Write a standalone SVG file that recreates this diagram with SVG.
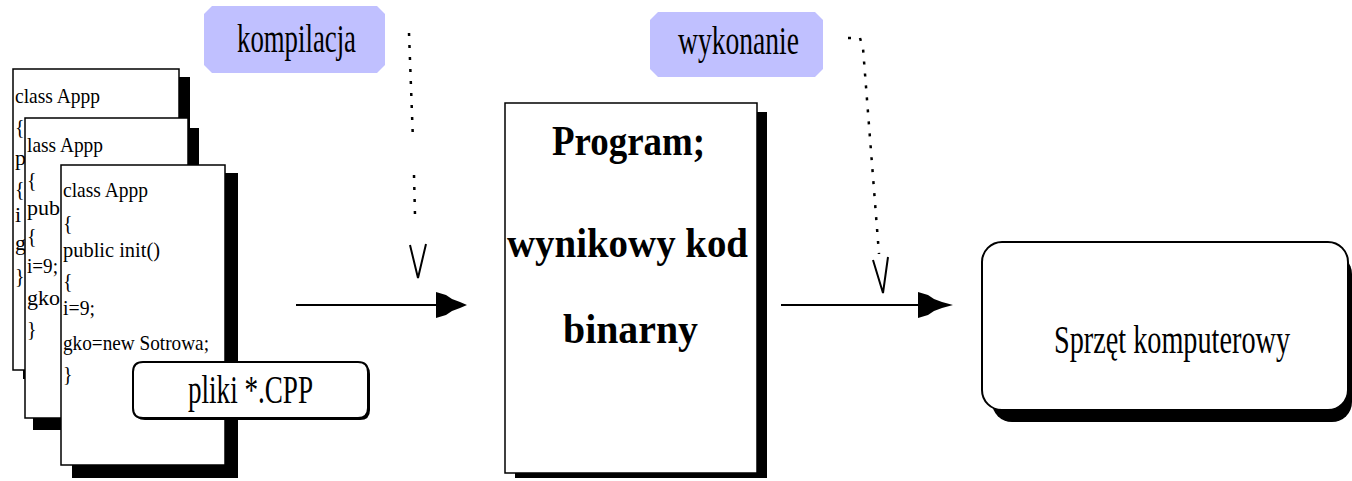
<svg xmlns="http://www.w3.org/2000/svg" width="1352" height="481" viewBox="0 0 1352 481">
  <defs>
    <style>
      .page { fill: #ffffff; stroke: #000000; stroke-width: 1.5; }
      .shadow { fill: #000000; }
      .code { font-family: "Liberation Serif", "Times New Roman", serif; font-size: 22px; fill: #000000; }
      .brace { font-size: 20px; }
      .label { font-family: "Liberation Serif", "Times New Roman", serif; font-size: 40px; fill: #000000; }
      .big { font-family: "Liberation Serif", "Times New Roman", serif; font-size: 42px; font-weight: bold; fill: #000000; }
      .tag { fill: #c0c0ff; stroke: none; }
      .box { fill: #ffffff; stroke: #000000; stroke-width: 2; }
      .line { fill: none; stroke: #000000; stroke-width: 2; }
      .dots { fill: none; stroke: #000000; stroke-width: 2.5; stroke-dasharray: 3 9; }
      .vhead { fill: none; stroke: #000000; stroke-width: 2; stroke-linejoin: miter; }
    </style>
  </defs>

  <!-- stack of source files -->
  <g id="source-page-1">
    <rect class="shadow" x="23" y="77" width="167" height="302"/>
    <rect class="page" x="13" y="69" width="166" height="301"/>
    <text class="code" x="15" y="103" textLength="85" lengthAdjust="spacingAndGlyphs">class Appp</text>
    <text class="code brace" x="15" y="134">{</text>
    <text class="code" x="15" y="165">p</text>
    <text class="code brace" x="15" y="196">{</text>
    <text class="code" x="15" y="222">i</text>
    <text class="code" x="15" y="250">g</text>
    <text class="code brace" x="15" y="283">}</text>
  </g>

  <g id="source-page-2">
    <rect class="shadow" x="33" y="128" width="166" height="302"/>
    <rect class="page" x="25" y="118" width="163" height="300"/>
    <text class="code" x="27" y="152" textLength="76" lengthAdjust="spacingAndGlyphs">lass Appp</text>
    <text class="code brace" x="27" y="187">{</text>
    <text class="code" x="27" y="215" textLength="33" lengthAdjust="spacingAndGlyphs">pub</text>
    <text class="code brace" x="27" y="243">{</text>
    <text class="code" x="27" y="273" textLength="31" lengthAdjust="spacingAndGlyphs">i=9;</text>
    <text class="code" x="27" y="305" textLength="33" lengthAdjust="spacingAndGlyphs">gko</text>
    <text class="code brace" x="27" y="336">}</text>
  </g>

  <g id="source-page-3">
    <rect class="shadow" x="72" y="173" width="166" height="305"/>
    <rect class="page" x="61" y="165" width="164" height="300"/>
    <text class="code" x="63" y="197" textLength="85" lengthAdjust="spacingAndGlyphs">class Appp</text>
    <text class="code brace" x="63" y="230">{</text>
    <text class="code" x="63" y="257" textLength="97" lengthAdjust="spacingAndGlyphs">public init()</text>
    <text class="code brace" x="63" y="288">{</text>
    <text class="code" x="63" y="315" textLength="32" lengthAdjust="spacingAndGlyphs">i=9;</text>
    <text class="code" x="63" y="350" textLength="146" lengthAdjust="spacingAndGlyphs">gko=new Sotrowa;</text>
    <text class="code brace" x="63" y="381">}</text>
  </g>

  <g id="files-label">
    <path class="shadow" d="M145 364 H360 Q370 364 370 374 V410 Q370 420 360 420 H145 Q135 420 135 410 V374 Q135 364 145 364 Z"/>
    <path class="box" d="M143 362 H358 Q368 362 368 372 V408 Q368 418 358 418 H143 Q133 418 133 408 V372 Q133 362 143 362 Z"/>
    <text class="label" x="250.5" y="403" font-size="34" text-anchor="middle" textLength="125" lengthAdjust="spacingAndGlyphs">pliki *.CPP</text>
  </g>

  <!-- stage labels -->
  <g id="compile-label">
    <path class="tag" d="M212 6 H377 L385 14 V65 L377 73 H212 L204 65 V14 Z"/>
    <text class="label" x="296.5" y="52" text-anchor="middle" textLength="119" lengthAdjust="spacingAndGlyphs">kompilacja</text>
  </g>

  <g id="run-label">
    <path class="tag" d="M658 12 H815 L823 20 V69 L815 77 H658 L650 69 V20 Z"/>
    <text class="label" x="738.5" y="54" text-anchor="middle" textLength="121" lengthAdjust="spacingAndGlyphs">wykonanie</text>
  </g>

  <!-- compiled program -->
  <g id="binary-program">
    <rect class="shadow" x="515" y="112" width="252" height="366"/>
    <rect class="page" x="505" y="103" width="252" height="370"/>
    <text class="big" x="628.5" y="155" text-anchor="middle" textLength="153" lengthAdjust="spacingAndGlyphs">Program;</text>
    <text class="big" x="627.5" y="257" text-anchor="middle" textLength="241" lengthAdjust="spacingAndGlyphs">wynikowy kod</text>
    <text class="big" x="630.5" y="343" text-anchor="middle" textLength="135" lengthAdjust="spacingAndGlyphs">binarny</text>
  </g>

  <!-- hardware -->
  <g id="hardware">
    <rect class="shadow" x="992" y="254" width="360" height="168" rx="20" ry="20"/>
    <rect class="box" x="982" y="242" width="366" height="168" rx="20" ry="20"/>
    <text class="label" x="1172" y="353" font-size="36" text-anchor="middle" textLength="236" lengthAdjust="spacingAndGlyphs">Sprzęt komputerowy</text>
  </g>

  <!-- connectors -->
  <g id="connectors">
    <line class="line" x1="296" y1="305" x2="440" y2="305"/>
    <polygon points="436,292 446,295 452,299 460,302 467,305 460,308 452,311 446,315 436,318" fill="#000000"/>
    <line class="line" x1="781" y1="305" x2="922" y2="305"/>
    <polygon points="918,292 928,295 934,299 942,302 953,305 942,308 934,311 928,315 918,318" fill="#000000"/>

    <path class="dots" d="M409 33 L413 141"/>
    <path class="dots" d="M414 175 L415 215"/>
    <path class="vhead" d="M410 245 L418 278 L426 244"/>

    <path class="dots" d="M848 38 L860 38 L863 48 L879 254"/>
    <path class="vhead" d="M873 260 L883 293 L888 257"/>
  </g>
</svg>
